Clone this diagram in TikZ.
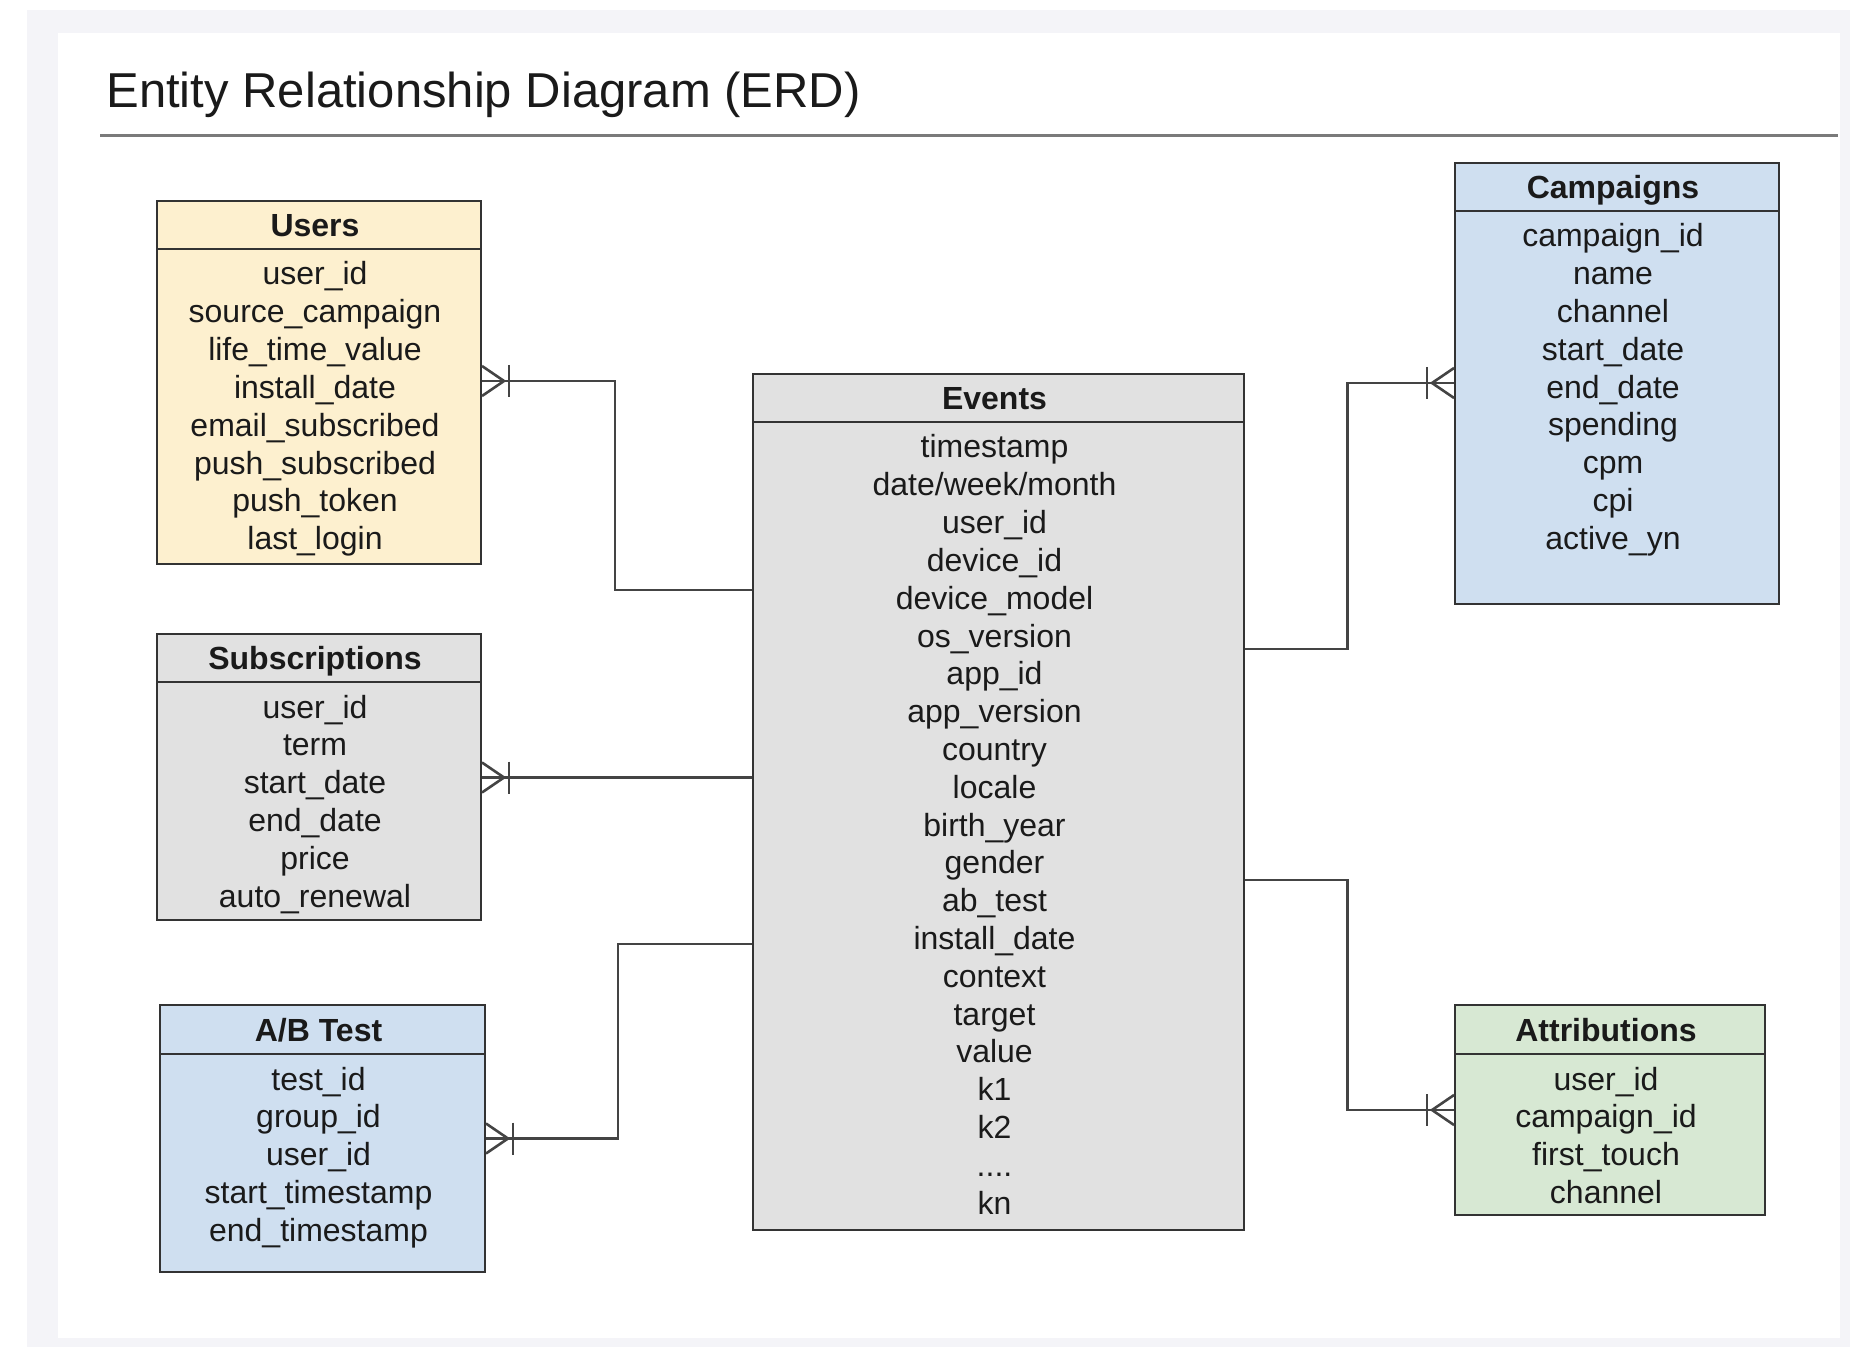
\documentclass[tikz,border=0pt]{standalone}
\usepackage{fontspec}
\setmainfont{Liberation Sans}
\usetikzlibrary{fit,calc}
\definecolor{bgout}{HTML}{F4F4F8}
\definecolor{ink}{HTML}{1A1A1A}
\definecolor{edge}{HTML}{333333}
\definecolor{linec}{HTML}{444444}
\definecolor{ruleC}{HTML}{7A7A7A}
\definecolor{cUsers}{HTML}{FDF0CF}
\definecolor{cGrey}{HTML}{E1E1E1}
\definecolor{cBlue}{HTML}{CFDFF0}
\definecolor{cGreen}{HTML}{D7E8D3}
\protected\def\erddots{{.}{.}{.}{.}}
\tikzset{
  ebox/.style={draw=edge, line width=1pt, inner sep=0pt},
  sepline/.style={draw=edge, line width=1pt},
  hdr/.style={font=\fontsize{16}{19}\selectfont\bfseries, text=ink, anchor=base, inner sep=0pt},
  fld/.style={font=\fontsize{16}{19}\selectfont, text=ink, anchor=base, inner sep=0pt},
  rel/.style={draw=linec, line width=1.3pt, line join=miter},
}
% #1 name, #2 fill, #3 x1, #4 y1, #5 x2, #6 y2, #7 header bottom, #8 title, #9 fields
\newcommand{\erdentity}[9]{%
  \node[ebox, fill=#2, fit={(#3,#4) (#5,#6)}] (#1) {};
  \draw[sepline] (#1.west |- 0,#7) -- (#1.east |- 0,#7);
  \node[hdr] (#1-h) at ({(#3+#5)/2-4},{(#4+#7)/2+11.5}) {#8};
  \foreach \f [count=\i] in {#9} {
    \node[fld] (#1-\i) at ({(#3+#5)/2-4},{#7+24.5+(\i-1)*37.8+11.5}) {\f};
  }
}
% crow's foot: #1 coordinate on box edge, #2 outward direction (+1 right, -1 left)
\newcommand{\crowfoot}[2]{%
  \draw[rel] ($(#1)+(0,-15)$) -- ($(#1)+(22*#2,0)$) -- ($(#1)+(0,15)$);
  \draw[rel] ($(#1)+(27*#2,-16)$) -- ($(#1)+(27*#2,16)$);
}
\begin{document}
\begin{tikzpicture}[x=0.5pt,y=-0.5pt]
\useasboundingbox (0,0) rectangle (1850,1347);
\fill[white] (0,0) rectangle (1850,1347);
\fill[bgout] (27,10) rectangle (1850,1347);
\fill[white] (58,33) rectangle (1840,1338);

\node[font=\fontsize{24.5}{29}\selectfont, text=ink, anchor=base west, inner sep=0pt] (title) at (106,108) {Entity Relationship Diagram (ERD)};
\draw[draw=ruleC, line width=1.5pt] (100,136) -- (1838,136);

\erdentity{users}{cUsers}{157}{201}{481}{564}{249}{Users}{user\_id,source\_campaign,life\_time\_value,install\_date,email\_subscribed,push\_subscribed,push\_token,last\_login}
\erdentity{subs}{cGrey}{157}{634}{481}{920}{682}{Subscriptions}{user\_id,term,start\_date,end\_date,price,auto\_renewal}
\erdentity{abtest}{cBlue}{160}{1005}{485}{1272}{1054}{A/B Test}{test\_id,group\_id,user\_id,start\_timestamp,end\_timestamp}
\erdentity{events}{cGrey}{753}{374}{1244}{1230}{422}{Events}{timestamp,date/week/month,user\_id,device\_id,device\_model,os\_version,app\_id,app\_version,country,locale,birth\_year,gender,ab\_test,install\_date,context,target,value,k1,k2,\erddots,kn}
\erdentity{camp}{cBlue}{1455}{163}{1779}{604}{211}{Campaigns}{campaign\_id,name,channel,start\_date,end\_date,spending,cpm,cpi,active\_yn}
\erdentity{attr}{cGreen}{1455}{1005}{1765}{1215}{1054}{Attributions}{user\_id,campaign\_id,first\_touch,channel}

% connector end points on the entity edges
\coordinate (pU) at (users.east |- 0,381);
\coordinate (pS) at (subs.east |- 0,777.5);
\coordinate (pA) at (abtest.east |- 0,1138.5);
\coordinate (pC) at (camp.west |- 0,383);
\coordinate (pT) at (attr.west |- 0,1110);

\draw[rel] (events.west |- 0,590) -| (615,381) -- (pU);
\draw[rel] (events.west |- 0,777.5) -- (pS);
\draw[rel] (events.west |- 0,944) -| (618,1138.5) -- (pA);
\draw[rel] (events.east |- 0,649) -| (1347.5,383) -- (pC);
\draw[rel] (events.east |- 0,880) -| (1347.5,1110) -- (pT);

\crowfoot{pU}{1}
\crowfoot{pS}{1}
\crowfoot{pA}{1}
\crowfoot{pC}{-1}
\crowfoot{pT}{-1}
\end{tikzpicture}
\end{document}
